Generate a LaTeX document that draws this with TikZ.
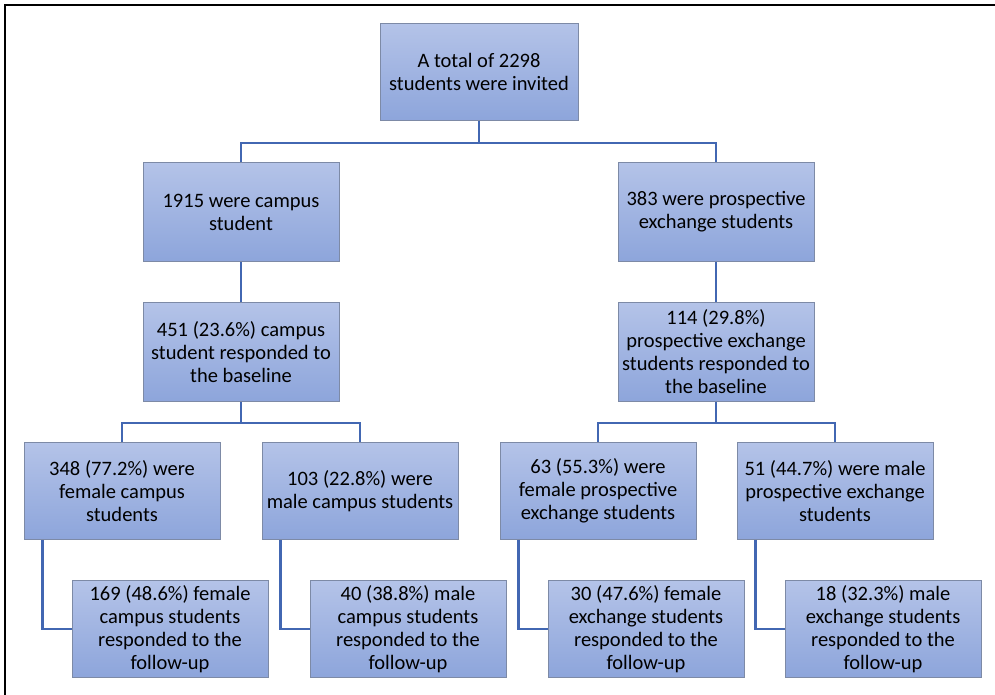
\documentclass[tikz,border=0pt]{standalone}
\usepackage{fontspec}
\setmainfont{Carlito}
\definecolor{boxtop}{HTML}{B4C3E8}
\definecolor{boxbot}{HTML}{8DA5DB}
\definecolor{boxline}{HTML}{7D8AA6}
\definecolor{linkblue}{HTML}{4267B2}
\tikzset{
  stage/.style={rectangle, draw=boxline, line width=0.8pt, top color=boxtop, bottom color=boxbot,
    minimum width=196pt, minimum height=97pt, align=center, inner sep=2pt,
    font=\fontsize{20.5}{23}\selectfont, text=black},
  link/.style={draw=linkblue, line width=2.6pt}
}
\begin{document}
\begin{tikzpicture}[x=1pt,y=-1pt]
  \useasboundingbox (0,0) rectangle (995,695);
  \draw[line width=2.6pt] (5,695) -- (5,5) -- (995,5);
  \node[stage, minimum width=198pt] (top) at (479,72) {A total of 2298\\students were invited};
  \node[stage, minimum height=99pt] (c1) at (241,212) {1915 were campus\\student};
  \node[stage, minimum height=99pt] (c2) at (716,212) {383 were prospective\\exchange students};
  \node[stage, minimum height=99pt] (b1) at (241,352) {451 (23.6\%) campus\\student responded to\\the baseline};
  \node[stage, minimum height=99pt] (b2) at (716,352) {114 (29.8\%)\\prospective exchange\\students responded to\\the baseline};
  \node[stage] (f1) at (122,491) {348 (77.2\%) were\\female campus\\students};
  \node[stage] (m1) at (360,491) {103 (22.8\%) were\\male campus students};
  \node[stage] (f2) at (598,491) {63 (55.3\%) were\\female prospective\\exchange students};
  \node[stage] (m2) at (835,491) {51 (44.7\%) were male\\prospective exchange\\students};
  \node[stage] (r1) at (170,629) {169 (48.6\%) female\\campus students\\responded to the\\follow-up};
  \node[stage] (r2) at (408,629) {40 (38.8\%) male\\campus students\\responded to the\\follow-up};
  \node[stage] (r3) at (646,629) {30 (47.6\%) female\\exchange students\\responded to the\\follow-up};
  \node[stage] (r4) at (883,629) {18 (32.3\%) male\\exchange students\\responded to the\\follow-up};
  \begin{scope}[link]
    \draw (top.south) -- ++(0,22) -| (c1.north);
    \draw (top.south) -- ++(0,22) -| (c2.north);
    \draw (c1) -- (b1);
    \draw (c2) -- (b2);
    \draw (b1.south) -- ++(0,21) -| (f1.north);
    \draw (b1.south) -- ++(0,21) -| (m1.north);
    \draw (b2.south) -- ++(0,21) -| (f2.north);
    \draw (b2.south) -- ++(0,21) -| (m2.north);
    \draw ([xshift=19pt]f1.south west) |- (r1.west);
    \draw ([xshift=19pt]m1.south west) |- (r2.west);
    \draw ([xshift=19pt]f2.south west) |- (r3.west);
    \draw ([xshift=19pt]m2.south west) |- (r4.west);
  \end{scope}
\end{tikzpicture}
\end{document}
